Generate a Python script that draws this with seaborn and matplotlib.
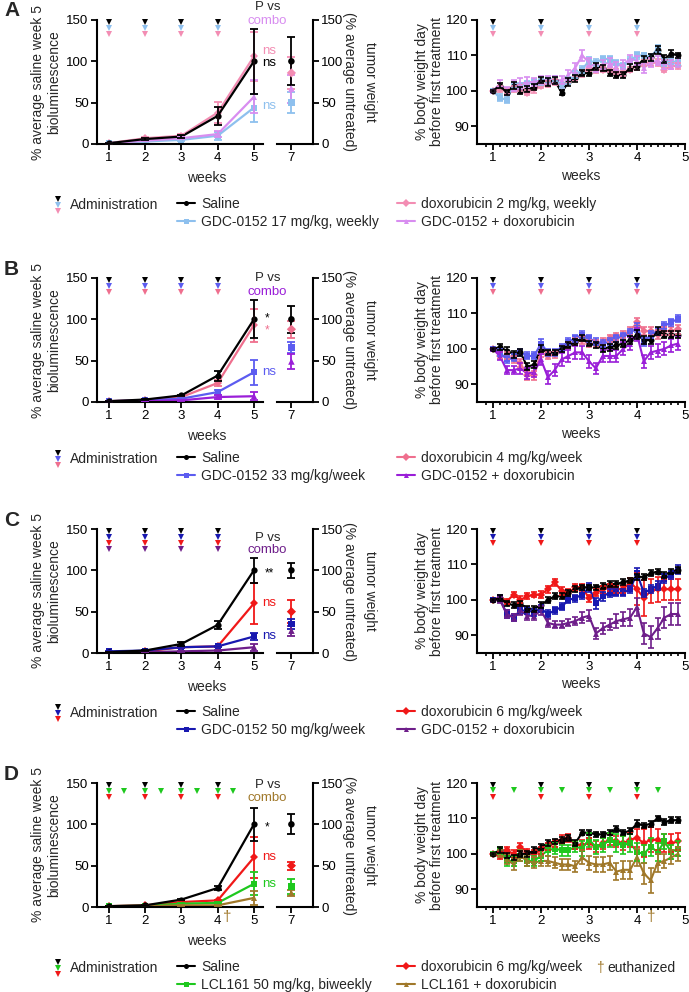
import numpy as np
import pandas as pd
import matplotlib
matplotlib.use("Agg")
import matplotlib.pyplot as plt
import seaborn as sns
from matplotlib.lines import Line2D
from matplotlib.ticker import FixedLocator

sns.set_theme(style="ticks")
plt.rcParams["font.family"] = ["Liberation Sans", "DejaVu Sans"]
plt.rcParams["axes.edgecolor"] = "black"
plt.rcParams["xtick.color"] = "black"
plt.rcParams["ytick.color"] = "black"

W, H = 689, 992

# ---------------- data ----------------
weeks_bio = [1, 2, 3, 4, 5]
week_tumor = 7
bw_days = list(range(28))
admin_days_weekly = [0, 7, 14, 21]
admin_days_biweekly = [0, 3, 7, 10, 14, 17, 21, 24]
euthanized_day_bw = 23
euthanized_week_bio = 4.25

# Panel A
A_names = ["Saline", "GDC-0152 17 mg/kg, weekly", "doxorubicin 2 mg/kg, weekly", "GDC-0152 + doxorubicin"]
A_colors = ["#000000", "#8ec0ee", "#f38db3", "#d88df0"]
A_saline_bio = [1, 6, 9, 34, 100]
A_saline_bio_err = [0.5, 1, 2, 11, 39]
A_gdc_bio = [1, 3, 5, 10, 44]
A_gdc_bio_err = [0.3, 0.5, 1, 5, 17]
A_dox_bio = [1, 7, 10, 38, 106]
A_dox_bio_err = [0.5, 1, 1.5, 13, 30]
A_combo_bio = [1, 4, 7, 12, 57]
A_combo_bio_err = [0.3, 0.5, 1, 4, 20]
A_tumor = [100, 50, 86, 67]
A_tumor_err = [29, 13, 19, 17]
A_saline_bw = [100, 101.5, 99.5, 101.5, 100, 100.5, 101, 103, 102.5, 103, 99.5, 102.5, 103.5, 105, 105, 107, 106.5, 105, 104.5, 104.5, 106.5, 107, 109, 109.5, 111.5, 109, 110.5, 110]
A_gdc_bw = [100, 98, 97.5, 101.5, 101.5, 102, 102.5, 102.5, 103, 103.5, 101.5, 103, 104.5, 106, 108.5, 108, 109, 109, 108, 107, 108.5, 110, 110, 109.5, 112, 108, 108.5, 108]
A_dox_bw = [100, 100.5, 100, 100.5, 101, 99.5, 100.5, 101.5, 102, 102.5, 101.5, 103, 103.5, 105, 106.5, 106, 106, 106, 105.5, 105, 106, 107, 108, 108, 108, 106, 107, 107]
A_combo_bw = [100, 102, 100, 101.5, 102, 102.5, 102.5, 103, 103, 103, 103, 104.5, 106.5, 110, 108, 106.5, 107.5, 108, 107, 107.5, 109, 108.5, 106.5, 108, 108.5, 107.5, 107.5, 108]
A_saline_bw_err = [0.3, 0.8, 0.8, 1.0, 1.0, 0.8, 0.8, 0.8, 1.0, 1.0, 0.8, 1.0, 1.0, 0.8, 0.8, 1.0, 0.8, 0.8, 0.8, 0.8, 1.0, 1.0, 0.8, 1.0, 1.2, 1.0, 1.0, 0.8]
A_gdc_bw_err = [0.3, 1.0, 0.8, 0.8, 0.8, 0.8, 0.8, 0.8, 0.8, 0.8, 0.8, 1.0, 1.0, 1.0, 1.0, 1.0, 0.8, 0.8, 0.8, 0.8, 1.0, 1.0, 0.8, 1.0, 1.0, 1.0, 1.0, 1.0]
A_dox_bw_err = [0.3, 0.8, 0.8, 0.8, 1.0, 0.8, 1.0, 0.8, 0.8, 0.8, 0.8, 0.8, 0.8, 1.0, 1.0, 1.0, 0.8, 0.8, 0.8, 0.8, 0.8, 1.0, 1.0, 1.0, 1.0, 0.8, 0.8, 0.8]
A_combo_bw_err = [0.3, 1.0, 1.2, 1.5, 1.5, 1.5, 1.2, 1.2, 1.2, 1.2, 1.2, 1.5, 1.5, 1.5, 1.2, 1.2, 1.2, 1.2, 1.2, 1.2, 1.2, 1.2, 1.5, 1.2, 1.2, 1.2, 1.2, 1.2]

# Panel B
B_names = ["Saline", "GDC-0152 33 mg/kg/week", "doxorubicin 4 mg/kg/week", "GDC-0152 + doxorubicin"]
B_colors = ["#000000", "#5c5cf0", "#ef6f8e", "#9a1ed8"]
B_saline_bio = [1, 3, 8, 32, 100]
B_saline_bio_err = [0.5, 1, 1, 6, 23]
B_gdc_bio = [1, 2, 4, 12, 36]
B_gdc_bio_err = [0.3, 0.5, 1, 3, 15]
B_dox_bio = [1, 2.5, 6, 23, 93]
B_dox_bio_err = [0.5, 0.5, 1, 4, 20]
B_combo_bio = [0.5, 1, 2, 6, 7]
B_combo_bio_err = [0.3, 0.3, 0.5, 2, 5]
B_tumor = [100, 66, 88, 49]
B_tumor_err = [16, 7, 10, 9]
B_saline_bw = [100, 100.5, 99.5, 98.5, 99, 95, 95.5, 100, 99, 99, 100, 101, 102, 103, 101.5, 101, 100, 100.5, 101, 101.5, 102.5, 104, 102.5, 102.5, 105, 104, 104, 104]
B_gdc_bw = [100, 99, 97, 97.5, 99, 98, 98, 101.5, 99, 99, 100.5, 102, 103, 104, 103, 102, 101.5, 102, 103, 103.5, 104.5, 106, 102, 104, 105, 106.5, 107.5, 108.5]
B_dox_bw = [100, 98, 98, 97, 96, 92.5, 92.5, 99, 98, 98.5, 100, 101, 102, 102.5, 101.5, 101.5, 102, 103, 103.5, 104, 105, 107.5, 105, 105, 104, 105, 105, 105.5]
B_combo_bw = [100, 98, 94, 94, 94.5, 93, 93.5, 97, 92, 94, 97, 98, 99, 99, 96.5, 94.5, 98, 98, 98, 100, 101.5, 104, 96.5, 99, 99.5, 100, 101, 101.5]
B_saline_bw_err = [0.3, 0.8, 1.0, 1.0, 1.0, 1.0, 1.0, 1.0, 0.8, 0.8, 0.8, 0.8, 0.8, 0.8, 0.8, 0.8, 1.0, 1.0, 1.0, 1.0, 1.0, 1.2, 1.2, 1.2, 1.2, 1.0, 1.0, 1.0]
B_gdc_bw_err = [0.3, 1.0, 1.0, 1.0, 1.0, 1.0, 1.0, 1.2, 1.0, 1.0, 1.0, 1.0, 1.0, 1.0, 1.0, 1.0, 1.0, 1.0, 1.0, 1.0, 1.0, 1.2, 1.2, 1.0, 1.0, 1.0, 1.0, 1.0]
B_dox_bw_err = [0.3, 1.0, 1.0, 1.0, 1.0, 1.2, 1.2, 1.2, 1.0, 1.0, 1.0, 1.0, 1.0, 1.0, 1.0, 1.0, 1.0, 1.0, 1.0, 1.0, 1.2, 1.2, 1.2, 1.2, 1.2, 1.2, 1.2, 1.2]
B_combo_bw_err = [0.3, 1.2, 1.2, 1.2, 1.5, 1.5, 1.5, 1.5, 1.8, 1.8, 1.8, 1.8, 1.8, 1.8, 1.8, 1.5, 1.8, 1.8, 1.8, 1.8, 1.8, 1.8, 1.8, 1.8, 1.8, 1.8, 1.8, 1.8]

# Panel C
C_names = ["Saline", "GDC-0152 50 mg/kg/week", "doxorubicin 6 mg/kg/week", "GDC-0152 + doxorubicin"]
C_colors = ["#000000", "#1818b0", "#f01818", "#6e1e8a"]
C_saline_bio = [1, 3, 11, 34, 100]
C_saline_bio_err = [0.5, 1, 2, 5, 15]
C_gdc_bio = [2, 3, 7, 8, 20]
C_gdc_bio_err = [0.5, 0.5, 1, 1, 4]
C_dox_bio = [1, 2, 7, 8, 60]
C_dox_bio_err = [0.5, 0.5, 1, 1, 25]
C_combo_bio = [0.5, 1, 2, 3, 7]
C_combo_bio_err = [0.3, 0.3, 0.5, 1, 4]
C_tumor = [100, 35, 50, 27]
C_tumor_err = [9, 6, 14, 6]
C_saline_bw = [100, 100.5, 99, 98.5, 99, 97.5, 97.5, 98.5, 100, 101, 101, 102, 103, 103.5, 103.5, 103.5, 104, 104.5, 104.5, 105, 105.5, 106.5, 106.5, 107.5, 108, 107, 108, 108.5]
C_gdc_bw = [100, 100.5, 96, 95, 97, 97, 96.5, 97.5, 96, 97, 98, 100, 100.5, 101.5, 103.5, 99, 101, 102, 102, 102, 103, 107.5, 102, 103, 104, 106, 107, 108.5]
C_dox_bw = [100, 100.5, 99.5, 101.5, 100, 101, 101.5, 101.5, 103, 105, 102.5, 102, 103.5, 103.5, 100.5, 102, 103, 103.5, 103, 103, 105, 103, 100.5, 102.5, 103, 103, 103, 103]
C_combo_bw = [100, 100, 96, 95, 97, 95.5, 95.5, 97, 93.5, 93, 93, 93.5, 94, 95, 95.5, 90.5, 92, 93, 94, 94.5, 95, 98, 90.5, 89.5, 92, 95, 96, 96]
C_saline_bw_err = [0.3, 0.8, 0.8, 0.8, 0.8, 0.8, 0.8, 0.8, 0.8, 0.8, 0.8, 0.8, 0.8, 0.8, 0.8, 0.8, 0.8, 0.8, 0.8, 0.8, 0.8, 0.8, 0.8, 0.8, 0.8, 0.8, 0.8, 0.8]
C_gdc_bw_err = [0.3, 0.8, 1.0, 1.0, 1.0, 1.0, 1.0, 1.0, 1.0, 1.0, 1.0, 1.0, 1.0, 1.2, 1.2, 1.5, 1.2, 1.2, 1.0, 1.0, 1.0, 1.5, 1.2, 1.2, 1.2, 1.2, 1.2, 1.2]
C_dox_bw_err = [0.3, 0.8, 0.8, 0.8, 1.0, 0.8, 0.8, 1.0, 1.0, 1.0, 1.0, 1.0, 1.0, 1.0, 1.0, 1.0, 1.0, 1.0, 1.0, 1.0, 1.2, 4.5, 5.0, 3.5, 3.5, 3.0, 3.0, 3.0]
C_combo_bw_err = [0.3, 0.8, 1.0, 1.0, 1.2, 1.2, 1.2, 1.2, 1.2, 1.0, 1.0, 1.0, 1.2, 1.5, 1.5, 1.5, 1.5, 1.5, 2.0, 2.0, 2.5, 2.5, 3.0, 3.0, 3.0, 3.0, 3.0, 3.0]

# Panel D
D_names = ["Saline", "LCL161 50 mg/kg, biweekly", "doxorubicin 6 mg/kg/week", "LCL161 + doxorubicin"]
D_colors = ["#000000", "#1ec81e", "#f01818", "#a0782a"]
D_saline_bio = [1, 2, 9, 23, 100]
D_saline_bio_err = [0.5, 0.5, 1, 3, 20]
D_lcl_bio = [1, 1.5, 4, 5, 28]
D_lcl_bio_err = [0.3, 0.3, 0.5, 1, 14]
D_dox_bio = [1, 2, 6, 8, 60]
D_dox_bio_err = [0.5, 0.5, 1, 1, 25]
D_combo_bio = [0.5, 1, 2, 2, 11]
D_combo_bio_err = [0.3, 0.3, 0.5, 0.5, 8]
D_tumor = [100, 25, 50, 17]
D_tumor_err = [12, 9, 5, 4]
D_saline_bw = [100, 101, 99.5, 99, 100, 100, 101, 102, 103, 103.5, 104, 104.5, 103, 106, 106, 105.5, 105.5, 106, 107, 106, 106.5, 108.5, 108, 108.5, 110, 109, 109.5, 109.5]
D_lcl_bw = [100, 101, 98, 98, 99.5, 98, 98, 99.5, 101, 101.5, 101, 101, 102, 101.5, 104, 102, 102.5, 104, 103, 102.5, 103, 100.5, 100, 102, 100.5, 103.5, 100.5, 101.5]
D_dox_bw = [100, 99.5, 101, 100, 102, 100.5, 100, 101, 102, 103, 104, 104.5, 102.5, 102.5, 103, 102, 103, 104, 103.5, 103, 104, 104.5, 103, 104, 104, 103, 103, 103.5]
D_combo_bw = [100, 100, 98.5, 97, 99.5, 98, 97.5, 98, 98, 97.5, 97, 97, 96.5, 99, 97.5, 97, 97, 97.5, 95, 95.5, 95.5, 99, 94.5, 92.5, 97.5, 98, 99, 100]
D_saline_bw_err = [0.3, 0.8, 0.8, 0.8, 0.8, 0.8, 0.8, 0.8, 0.8, 0.8, 0.8, 0.8, 0.8, 0.8, 0.8, 0.8, 0.8, 0.8, 0.8, 0.8, 0.8, 1.0, 0.8, 0.8, 0.8, 0.8, 0.8, 0.8]
D_lcl_bw_err = [0.3, 1.0, 1.5, 1.5, 1.5, 1.5, 1.5, 1.5, 1.5, 1.5, 1.5, 1.5, 1.5, 2.0, 2.0, 2.0, 2.0, 2.0, 2.5, 2.5, 2.5, 2.5, 2.5, 2.5, 2.5, 2.0, 2.0, 2.0]
D_dox_bw_err = [0.3, 1.0, 1.0, 1.0, 1.2, 1.0, 1.0, 1.0, 1.0, 1.0, 1.2, 1.2, 1.2, 1.5, 1.5, 1.5, 1.5, 1.5, 1.5, 2.0, 2.0, 2.5, 4.0, 3.5, 3.0, 2.5, 2.5, 2.5]
D_combo_bw_err = [0.3, 1.0, 1.5, 1.5, 1.5, 1.5, 1.5, 1.5, 1.5, 1.5, 1.5, 1.5, 1.5, 2.0, 2.0, 2.0, 2.0, 2.0, 2.5, 2.5, 2.5, 2.5, 3.0, 3.5, 2.5, 2.0, 2.0, 2.0]

markers = ["o", "s", "D", "^"]

# ---------------- figure ----------------
fig = plt.figure(figsize=(W / 100, H / 100), dpi=100)
FS_TICK = 9.5
FS_LAB = 10


def style_axis(ax):
    ax.tick_params(direction="out", length=4, width=1.3, labelsize=FS_TICK, pad=2)
    for s in ax.spines.values():
        s.set_linewidth(1.5)


def draw_panel(letter, top, names, colors, bio, bio_err, tumor, tumor_err, bw, bw_err,
               admin_left, admin_right, pvs_y, combo_y, annots, leg_y, admin_icon,
               dagger=False):
    y0 = 1 - (top + 124) / H
    h = 124 / H
    ax7 = fig.add_axes([277 / W, y0, 36 / W, h])
    axr = fig.add_axes([477 / W, y0, 208 / W, h])
    ax = fig.add_axes([97 / W, y0, 166 / W, h])
    for a in (ax, ax7, axr):
        a.set_facecolor("none")

    order = [2, 1, 3, 0]  # draw saline last (on top)
    pal = {names[i]: colors[i] for i in range(4)}
    mk = {names[i]: markers[i] for i in range(4)}
    hue_order = [names[i] for i in order]

    # ---- bioluminescence ----
    rows = []
    for i in order:
        for w, v in zip(weeks_bio, bio[i]):
            rows.append({"week": w, "value": v, "group": names[i]})
    df = pd.DataFrame(rows)
    sns.lineplot(data=df, x="week", y="value", hue="group", style="group",
                 hue_order=hue_order, style_order=hue_order,
                 palette=pal, markers=mk, dashes=False, markersize=4.5,
                 markeredgewidth=0, linewidth=1.6, legend=False, ax=ax)
    for i in order:
        ax.errorbar(weeks_bio, bio[i], yerr=bio_err[i], fmt="none", ecolor=colors[i],
                    elinewidth=1.3, capsize=3, capthick=1.3, zorder=3)
    ax.set_xlim(0.67, 5.25)
    ax.set_ylim(0, 150)
    ax.set_xticks(weeks_bio)
    ax.set_yticks([0, 50, 100, 150])
    sns.despine(ax=ax)
    style_axis(ax)
    ax.set_xlabel("")
    ax.set_ylabel("% average saline week 5\nbioluminescence", fontsize=FS_LAB, labelpad=4)
    for yv, c, wk in admin_left:
        ax.plot(wk, [yv] * len(wk), linestyle="none", marker="v", color=c, ms=4.5,
                mew=0, clip_on=False)
    ax.text(5.37, pvs_y, "P vs", ha="center", va="center", fontsize=9.5, clip_on=False)
    ax.text(5.37, combo_y, "combo", ha="center", va="center", fontsize=9.5,
            color=colors[3], clip_on=False)
    for txt, yv, c in annots:
        if "*" in txt:
            ax.text(5.31, yv - 4, txt, ha="left", va="center", fontsize=8.5, color=c, clip_on=False)
        else:
            ax.text(5.22, yv, txt, ha="left", va="center", fontsize=9.5, color=c, clip_on=False)
    if dagger:
        ax.text(euthanized_week_bio, -12, "\u2020", ha="center", va="center", fontsize=11,
                color=colors[3], clip_on=False)
    fig.text(207 / W, 1 - (top + 124 + 34) / H, "weeks", ha="center", va="center", fontsize=FS_LAB)

    # ---- tumour weight (week 7) ----
    tdf = pd.DataFrame({"week": [week_tumor] * 4, "value": [tumor[i] for i in order],
                        "group": hue_order})
    sns.scatterplot(data=tdf, x="week", y="value", hue="group", style="group",
                    palette=pal, markers=mk, s=22, linewidth=0, legend=False, ax=ax7, zorder=4)
    for i in order:
        ax7.errorbar([week_tumor], [tumor[i]], yerr=[tumor_err[i]], fmt="none",
                     ecolor=colors[i], elinewidth=1.3, capsize=3, capthick=1.3)
    ax7.set_xlim(6.6, 7.6)
    ax7.set_ylim(0, 150)
    ax7.set_xticks([7])
    ax7.set_yticks([0, 50, 100, 150])
    ax7.yaxis.tick_right()
    ax7.yaxis.set_label_position("right")
    ax7.spines["left"].set_visible(False)
    ax7.spines["top"].set_visible(False)
    style_axis(ax7)
    ax7.set_xlabel("")
    ax7.set_ylabel("tumor weight\n(% average untreated)", rotation=270, fontsize=FS_LAB,
                   labelpad=24, linespacing=1.6)

    # ---- body weight ----
    rows = []
    for i in order:
        for d, v in zip(bw_days, bw[i]):
            rows.append({"week": 1 + d / 7, "value": v, "group": names[i]})
    bdf = pd.DataFrame(rows)
    sns.lineplot(data=bdf, x="week", y="value", hue="group", style="group",
                 hue_order=hue_order, style_order=hue_order,
                 palette=pal, markers=mk, dashes=False, markersize=4.3,
                 markeredgewidth=0, linewidth=1.5, legend=False, ax=axr)
    for i in order:
        axr.errorbar([1 + d / 7 for d in bw_days], bw[i], yerr=bw_err[i], fmt="none",
                     ecolor=colors[i], elinewidth=1.2, capsize=2.2, capthick=1.2, zorder=3)
    axr.set_xlim(0.667, 5.0)
    axr.set_ylim(85, 120)
    axr.set_xticks([1, 2, 3, 4, 5])
    axr.xaxis.set_minor_locator(FixedLocator([1 + d / 7 for d in range(-1, 29)]))
    axr.set_yticks([90, 100, 110, 120])
    sns.despine(ax=axr)
    style_axis(axr)
    axr.tick_params(axis="x", which="minor", direction="out", length=2.5, width=1.2)
    axr.set_xlabel("weeks", fontsize=FS_LAB, labelpad=3)
    axr.set_ylabel("% body weight day\nbefore first treatment", fontsize=FS_LAB,
                   labelpad=2, linespacing=1.05)
    for yv, c, days in admin_right:
        wk = [1 + d / 7 for d in days]
        axr.plot(wk, [yv] * len(wk), linestyle="none", marker="v", color=c, ms=4.2,
                 mew=0, clip_on=False)
    if dagger:
        axr.text(1 + euthanized_day_bw / 7, 82.2, "\u2020", ha="center", va="center",
                 fontsize=11, color=colors[3], clip_on=False)

    # ---- panel letter ----
    fig.text(4 / W, 1 - (top - 9) / H, letter, fontsize=15, fontweight="bold",
             ha="left", va="center")

    # ---- legend ----
    fig.text(70 / W, 1 - leg_y / H, "Administration", ha="left", va="center", fontsize=FS_LAB)
    for k, c in enumerate(admin_icon):
        fig.add_artist(Line2D([58 / W], [1 - (leg_y - 6 + 6 * k) / H], marker="v",
                              linestyle="none", color=c, ms=4.2, mew=0,
                              transform=fig.transFigure))

    def handle(i):
        return Line2D([], [], color=colors[i], marker=markers[i], ms=3.6, mew=0, lw=1.5)

    for cols, xpx in (([0, 1], 177), ([2, 3], 397)):
        fig.legend(handles=[handle(i) for i in cols], labels=[names[i] for i in cols],
                   loc="upper left", bbox_to_anchor=(xpx / W, 1 - (leg_y - 8) / H),
                   frameon=False, fontsize=FS_LAB, handlelength=1.3, handletextpad=0.45,
                   labelspacing=0.3, borderpad=0, borderaxespad=0)
    if dagger:
        fig.text(596 / W, 1 - leg_y / H, "\u2020", ha="left", va="center",
                 fontsize=FS_LAB, color=colors[3])
        fig.text(607 / W, 1 - leg_y / H, "euthanized", ha="left", va="center", fontsize=FS_LAB)


weekly = admin_days_weekly
wk_bio = [1 + d / 7 for d in admin_days_weekly]
bi_bio = [1 + d / 7 for d in admin_days_biweekly]

draw_panel("A", 20, A_names, A_colors,
           [A_saline_bio, A_gdc_bio, A_dox_bio, A_combo_bio],
           [A_saline_bio_err, A_gdc_bio_err, A_dox_bio_err, A_combo_bio_err],
           A_tumor, A_tumor_err,
           [A_saline_bw, A_gdc_bw, A_dox_bw, A_combo_bw],
           [A_saline_bw_err, A_gdc_bw_err, A_dox_bw_err, A_combo_bw_err],
           [(147, A_colors[0], wk_bio), (140, A_colors[1], wk_bio), (133, A_colors[2], wk_bio)],
           [(119.3, A_colors[0], weekly), (117.8, A_colors[1], weekly), (116.1, A_colors[2], weekly)],
           166, 149,
           [("ns", 113, A_colors[2]), ("ns", 98, "#000000"), ("ns", 46, A_colors[1])],
           205, [A_colors[0], A_colors[1], A_colors[2]])

draw_panel("B", 278, B_names, B_colors,
           [B_saline_bio, B_gdc_bio, B_dox_bio, B_combo_bio],
           [B_saline_bio_err, B_gdc_bio_err, B_dox_bio_err, B_combo_bio_err],
           B_tumor, B_tumor_err,
           [B_saline_bw, B_gdc_bw, B_dox_bw, B_combo_bw],
           [B_saline_bw_err, B_gdc_bw_err, B_dox_bw_err, B_combo_bw_err],
           [(147, B_colors[0], wk_bio), (140, B_colors[1], wk_bio), (133, B_colors[2], wk_bio)],
           [(119.3, B_colors[0], weekly), (117.8, B_colors[1], weekly), (116.1, B_colors[2], weekly)],
           150, 133,
           [("*", 105, "#000000"), ("*", 90, B_colors[2]), ("ns", 36, B_colors[1])],
           459, [B_colors[0], B_colors[1], B_colors[2]])

draw_panel("C", 529, C_names, C_colors,
           [C_saline_bio, C_gdc_bio, C_dox_bio, C_combo_bio],
           [C_saline_bio_err, C_gdc_bio_err, C_dox_bio_err, C_combo_bio_err],
           C_tumor, C_tumor_err,
           [C_saline_bw, C_gdc_bw, C_dox_bw, C_combo_bw],
           [C_saline_bw_err, C_gdc_bw_err, C_dox_bw_err, C_combo_bw_err],
           [(147, C_colors[0], wk_bio), (140, C_colors[1], wk_bio), (133, C_colors[2], wk_bio),
            (126, C_colors[3], wk_bio)],
           [(119.3, C_colors[0], weekly), (117.8, C_colors[1], weekly), (116.1, C_colors[2], weekly)],
           139, 124,
           [("**", 100, "#000000"), ("ns", 60, C_colors[2]), ("ns", 20, C_colors[1])],
           713, [C_colors[0], C_colors[1], C_colors[2]])

draw_panel("D", 783, D_names, D_colors,
           [D_saline_bio, D_lcl_bio, D_dox_bio, D_combo_bio],
           [D_saline_bio_err, D_lcl_bio_err, D_dox_bio_err, D_combo_bio_err],
           D_tumor, D_tumor_err,
           [D_saline_bw, D_lcl_bw, D_dox_bw, D_combo_bw],
           [D_saline_bw_err, D_lcl_bw_err, D_dox_bw_err, D_combo_bw_err],
           [(147, D_colors[0], wk_bio), (140, D_colors[1], bi_bio), (133, D_colors[2], wk_bio)],
           [(119.3, D_colors[0], weekly), (118.0, D_colors[1], admin_days_biweekly),
            (116.1, D_colors[2], weekly)],
           147, 132,
           [("*", 100, "#000000"), ("ns", 60, D_colors[2]), ("ns", 28, D_colors[1])],
           968, [D_colors[0], D_colors[1], D_colors[2]], dagger=True)

fig.savefig("out.png", dpi=100)
